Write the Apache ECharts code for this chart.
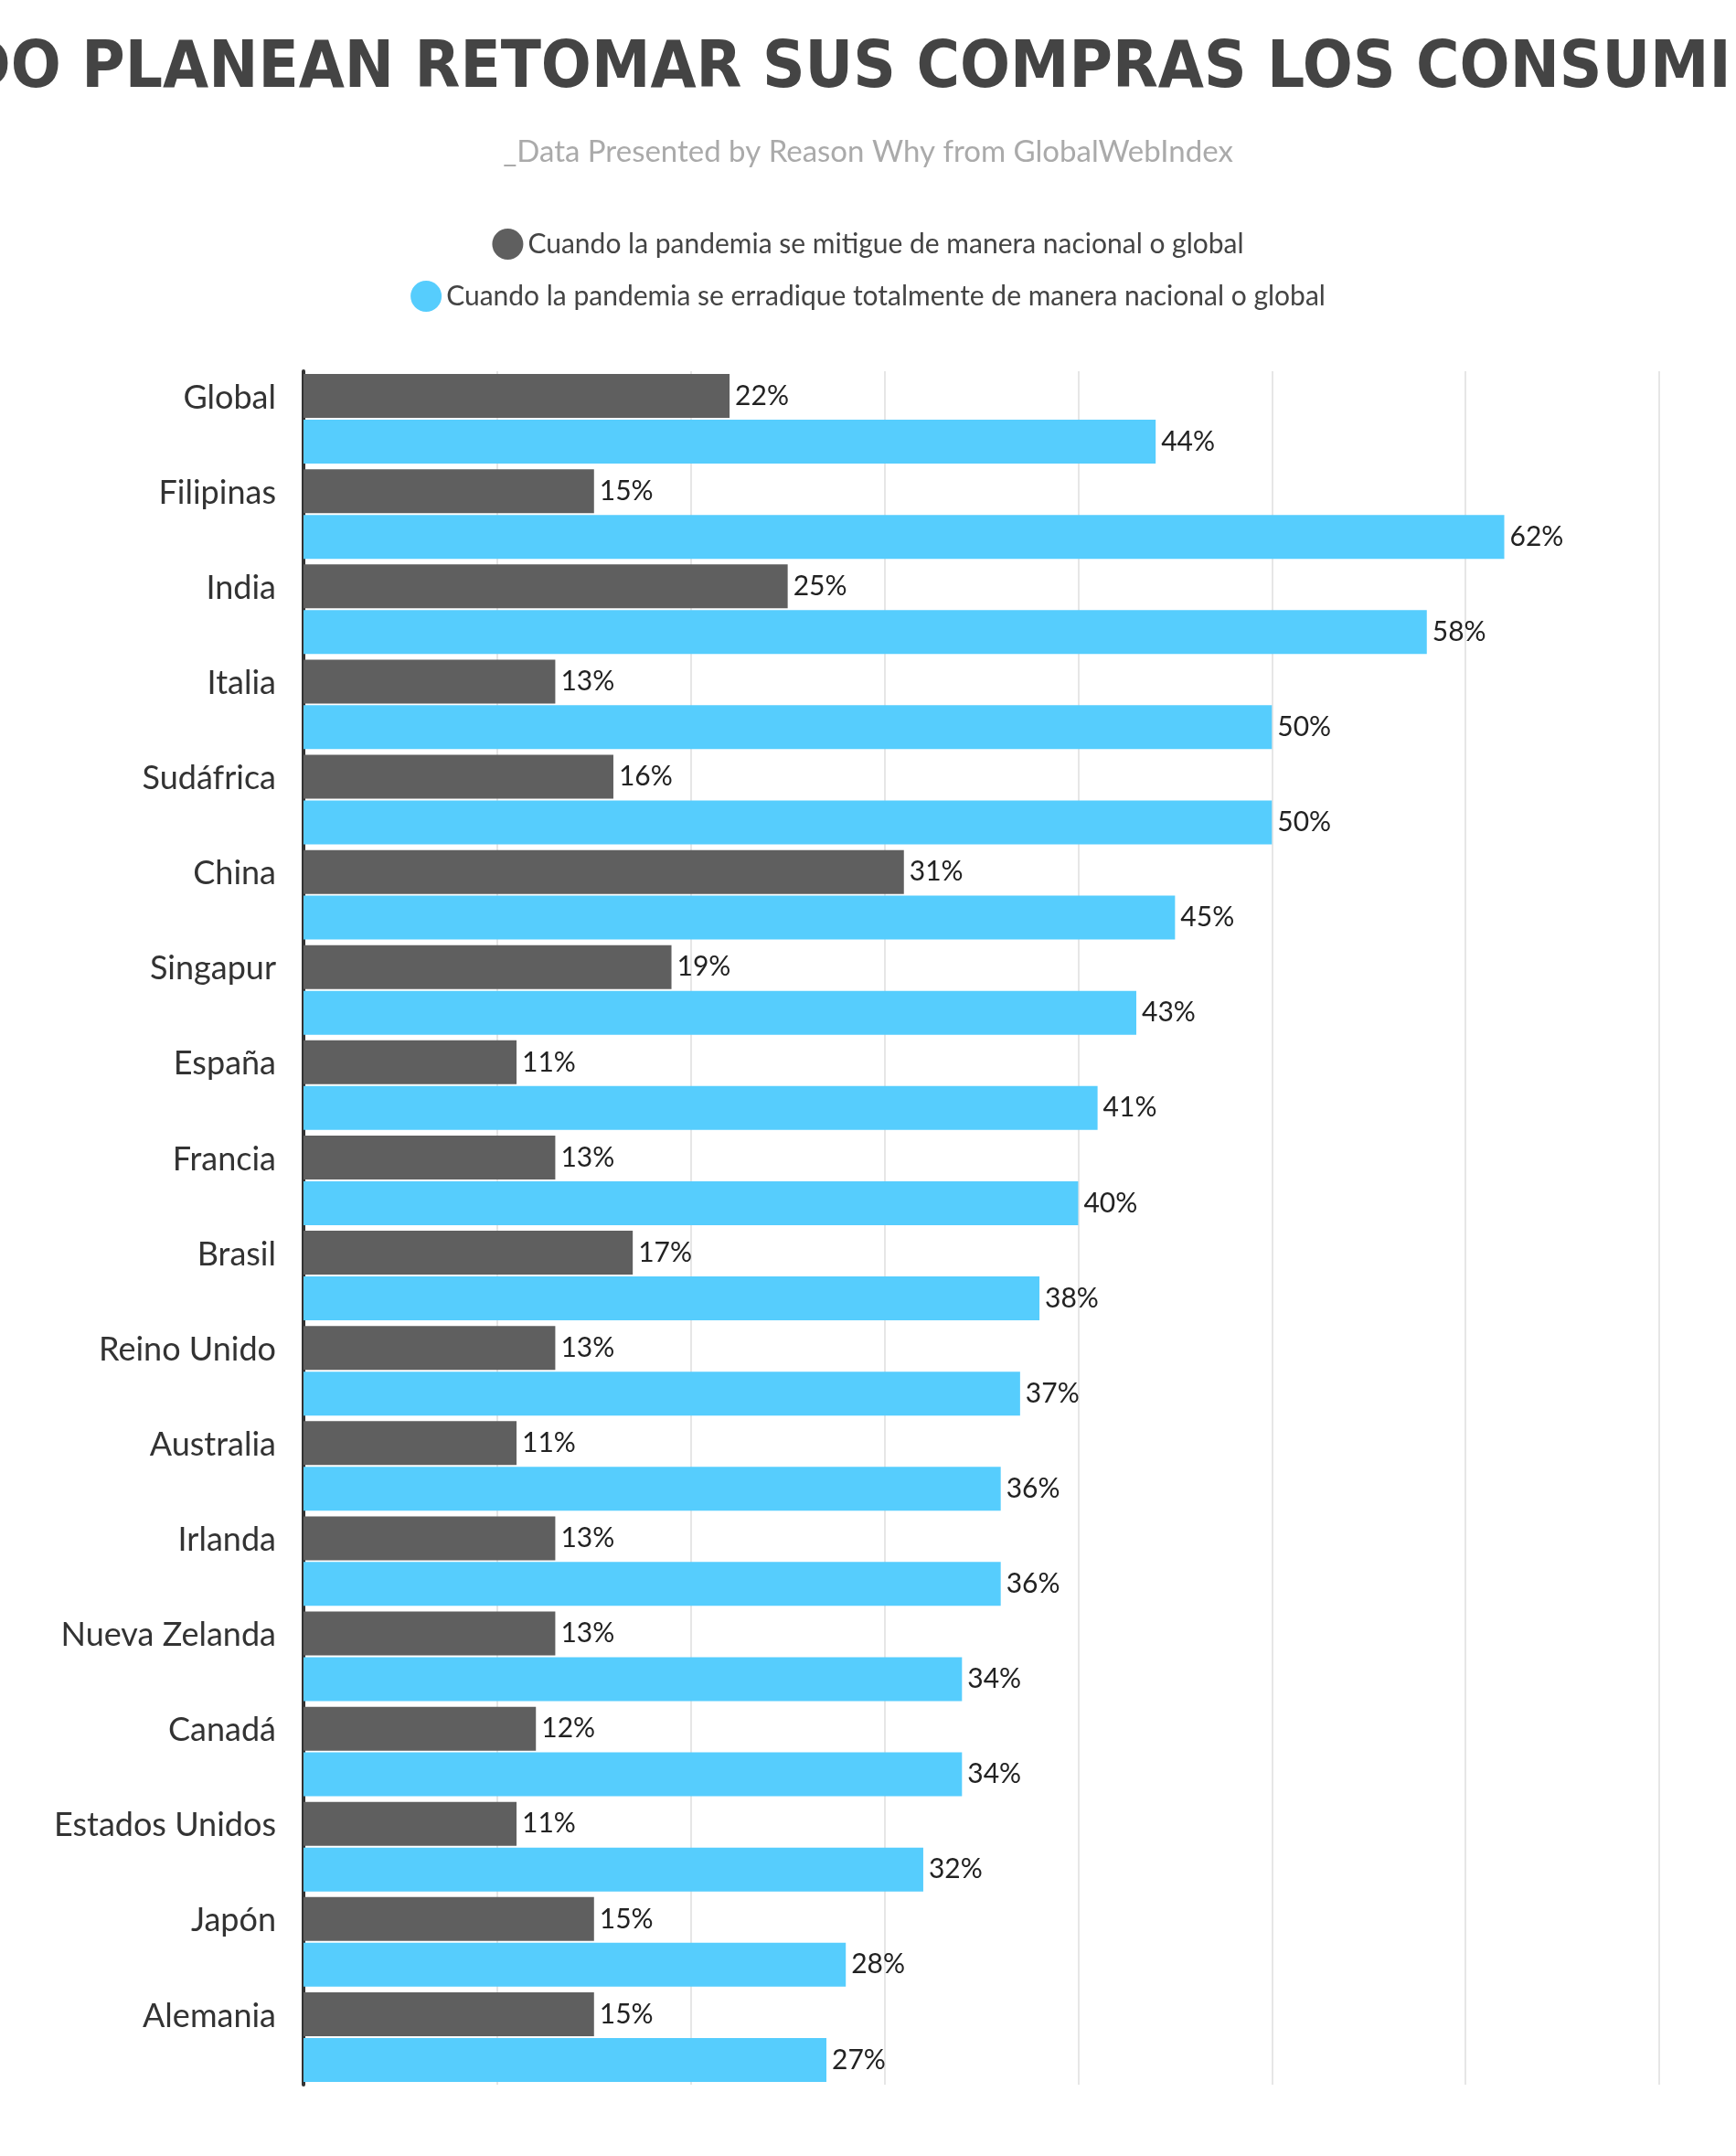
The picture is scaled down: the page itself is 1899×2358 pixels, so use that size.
<!DOCTYPE html>
<html><head><meta charset="utf-8">
<script src="https://cdn.jsdelivr.net/npm/echarts@6/dist/echarts.min.js"></script>
<style>html,body{margin:0;background:#fff}#c{width:1899px;height:2358px}</style>
</head><body><div id="c"></div>
<script>
const countries = ['Global','Filipinas','India','Italia','Sudáfrica','China','Singapur','España','Francia','Brasil','Reino Unido','Australia','Irlanda','Nueva Zelanda','Canadá','Estados Unidos','Japón','Alemania'];
const mitigue = [22,15,25,13,16,31,19,11,13,17,13,11,13,13,12,11,15,15];
const erradique = [44,62,58,50,50,45,43,41,40,38,37,36,36,34,34,32,28,27];
const nameA = 'Cuando la pandemia se mitigue de manera nacional o global';
const nameB = 'Cuando la pandemia se erradique totalmente de manera nacional o global';

const chart = echarts.init(document.getElementById('c'));
const lbl = {show:true, position:'right', distance:6, formatter:'{c}%', color:'#222', fontSize:30, fontFamily:'Lato'};
chart.setOption({
  title: [{
    text: '¿CUÁNDO PLANEAN RETOMAR SUS COMPRAS LOS CONSUMIDORES?', left:'center', top:35,
    textStyle:{fontSize:72, fontWeight:'bold', color:'#444', fontFamily:'Liberation Sans Narrow, DejaVu Sans Condensed, sans-serif'}
  },{
    text: '_Data Presented by Reason Why from GlobalWebIndex', left:'center', top:145,
    textStyle:{fontSize:33, fontWeight:'normal', color:'#aaa', fontFamily:'Lato'}
  }],
  legend: [
    {data:[nameA], top:245, left:'center', icon:'circle', itemWidth:34, itemHeight:34, textStyle:{fontSize:30, color:'#444', fontFamily:'Lato'}},
    {data:[nameB], top:302, left:'center', icon:'circle', itemWidth:34, itemHeight:34, textStyle:{fontSize:30, color:'#444', fontFamily:'Lato'}}
  ],
  grid: {left:332, right:84, top:406, bottom:78},
  xAxis: {type:'value', min:0, max:70, interval:10, axisLabel:{show:false}, axisLine:{show:false}, axisTick:{show:false},
    splitLine:{lineStyle:{color:'#e6e6e6', width:2}}},
  yAxis: {type:'category', data:countries, inverse:true,
    axisLine:{lineStyle:{color:'#333', width:4}},
    axisTick:{length:281, lineStyle:{color:'#333', width:2}},
    axisLabel:{fontSize:36, color:'#333', margin:30, fontFamily:'Lato', verticalAlign:'bottom', lineHeight:46}},
  series: [
    {name:nameA, type:'bar', data:mitigue, barWidth:48, barGap:'4%', itemStyle:{color:'#5f5f5f'}, label:lbl},
    {name:nameB, type:'bar', data:erradique, barWidth:48, barGap:'4%', itemStyle:{color:'#56cdfd'}, label:lbl}
  ]
});
</script></body></html>
